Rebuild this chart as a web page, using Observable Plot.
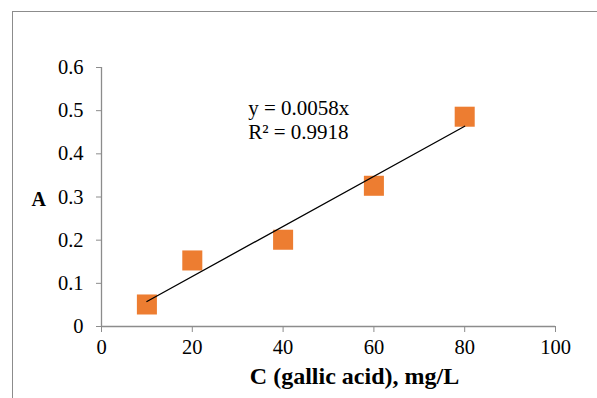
<!DOCTYPE html>
<html>
<head>
<meta charset="utf-8">
<script src="https://cdn.jsdelivr.net/npm/d3@7"></script>
<script src="https://cdn.jsdelivr.net/npm/@observablehq/plot@0.6"></script>
<style>
  html, body { margin: 0; padding: 0; background: #fff; }
  #wrap { position: relative; width: 597px; height: 398px; overflow: hidden; }
  #border { position: absolute; left: 12px; top: 11px; width: 700px; height: 500px; border: 1px solid #8c8c8c; }
  #chart { position: absolute; left: 0; top: 0; }
</style>
</head>
<body>
<div id="wrap"><div id="border"></div><div id="chart"></div></div>
<script>
const concentrations = [10, 20, 40, 60, 80];
const absorbances = [0.051, 0.153, 0.201, 0.326, 0.486];
const slope = 0.0058;
const trendX = [10, 80];
const xTicks = [0, 20, 40, 60, 80, 100];
const yTicks = [0, 0.1, 0.2, 0.3, 0.4, 0.5, 0.6];
const yTickLabels = ["0", "0.1", "0.2", "0.3", "0.4", "0.5", "0.6"];
const equationLines = ["y = 0.0058x", "R² = 0.9918"];
const xTitle = "C (gallic acid), mg/L";
const yTitle = "A";

const points = concentrations.map((c, i) => ({c, a: absorbances[i]}));
const trend = trendX.map(c => ({c, a: slope * c}));
const eq = [{c: 32.3, a: 0.505, t: equationLines[0]}, {c: 32.3, a: 0.449, t: equationLines[1]}];

const axisColor = "#8c8c8c";
const plot = Plot.plot({
  width: 597,
  height: 398,
  marginLeft: 101,
  marginRight: 42,
  marginTop: 67,
  marginBottom: 72,
  style: {fontFamily: "'Liberation Serif', 'Times New Roman', serif", fontSize: "20.5px", color: "black", background: "transparent"},
  x: {domain: [0, 100], ticks: xTicks},
  y: {domain: [0, 0.6], ticks: yTicks},
  marks: [
    Plot.ruleY([0], {stroke: axisColor, strokeWidth: 1.3}),
    Plot.ruleX([0], {stroke: axisColor, strokeWidth: 1.3}),
    Plot.axisX({ticks: xTicks, tickSize: 6, tickPadding: 7, stroke: axisColor, fill: "black", label: null, fontSize: 20.5}),
    Plot.axisY({ticks: yTicks, tickSize: 5, tickPadding: 13, stroke: axisColor, fill: "black", label: null, fontSize: 20.5,
      tickFormat: d => yTickLabels[yTicks.indexOf(d)]}),
    Plot.dot(points, {x: "c", y: "a", symbol: "square", r: 11.3, fill: "#ED7D31", stroke: "none"}),
    Plot.line(trend, {x: "c", y: "a", stroke: "black", strokeWidth: 1.3}),
    Plot.text(eq, {x: "c", y: "a", text: "t", textAnchor: "start", fontSize: 21, fill: "black"}),
    Plot.text([xTitle], {frameAnchor: "bottom", dx: 26, dy: 57, fontSize: 24, fontWeight: "bold", fill: "black"}),
    Plot.text([yTitle], {frameAnchor: "left", dx: -70, dy: 2.5, fontSize: 20, fontWeight: "bold", fill: "black"})
  ]
});
document.getElementById("chart").appendChild(plot);
</script>
</body>
</html>
